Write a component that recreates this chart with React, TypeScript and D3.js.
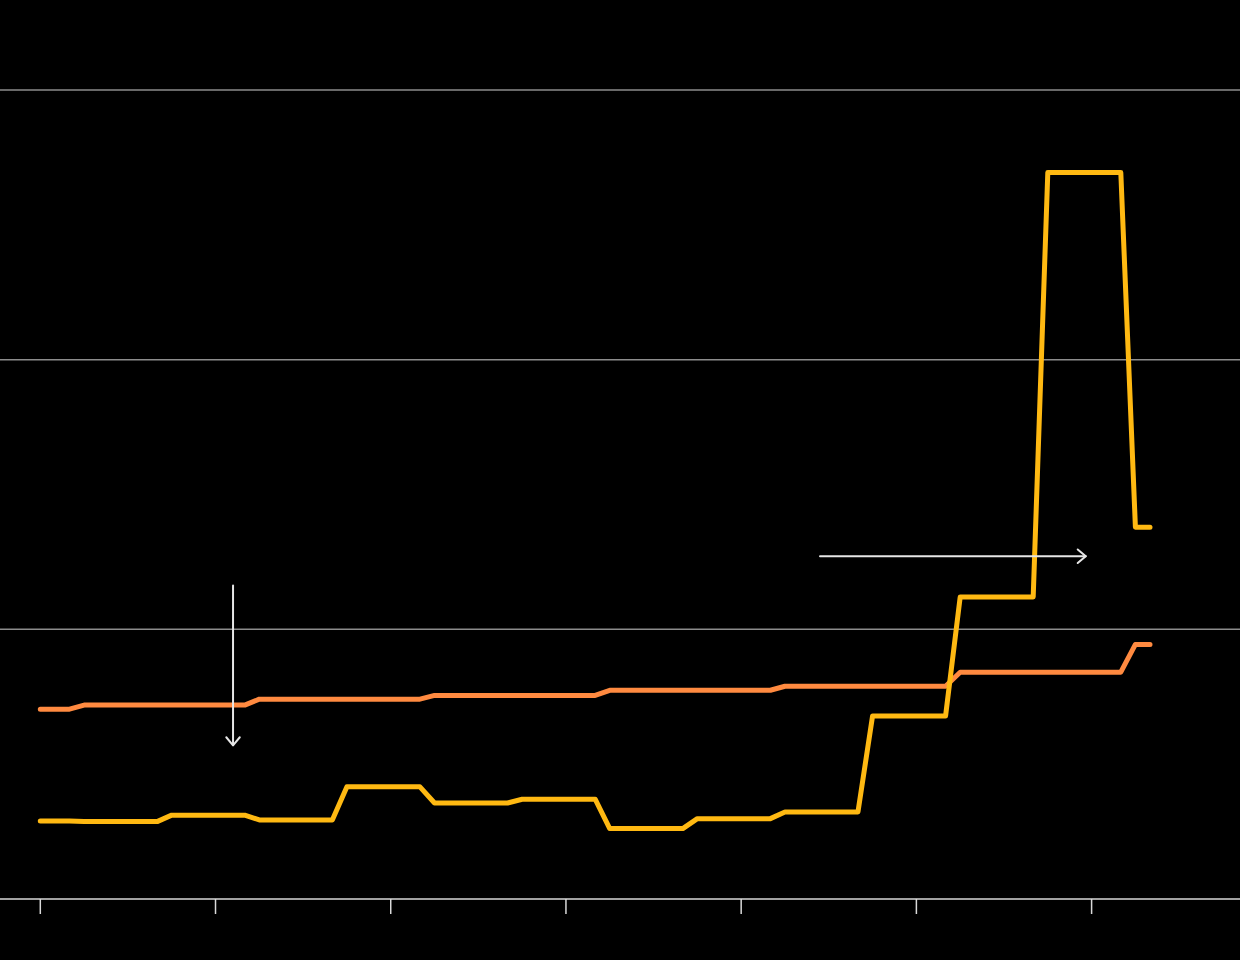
import React from "react";
import * as d3 from "d3";

// monthly series, 77 points; ticks every 12 months
const months: number[] = d3.range(77);
const tickIndices: number[] = [0, 12, 24, 36, 48, 60, 72];
const gridValues: number[] = [10, 20, 30];

const orangeSeries: number[] = [
  7.04, 7.04, 7.04,
  7.19, 7.19, 7.19, 7.19, 7.19, 7.19, 7.19, 7.19, 7.19, 7.19, 7.19, 7.19,
  7.41, 7.41, 7.41, 7.41, 7.41, 7.41, 7.41, 7.41, 7.41, 7.41, 7.41, 7.41,
  7.55, 7.55, 7.55, 7.55, 7.55, 7.55, 7.55, 7.55, 7.55, 7.55, 7.55, 7.55,
  7.74, 7.74, 7.74, 7.74, 7.74, 7.74, 7.74, 7.74, 7.74, 7.74, 7.74, 7.74,
  7.89, 7.89, 7.89, 7.89, 7.89, 7.89, 7.89, 7.89, 7.89, 7.89, 7.89, 7.89,
  8.41, 8.41, 8.41, 8.41, 8.41, 8.41, 8.41, 8.41, 8.41, 8.41, 8.41, 8.41,
  9.44, 9.44,
];

const yellowSeries: number[] = [
  2.89, 2.89, 2.89,
  2.87, 2.87, 2.87, 2.87, 2.87, 2.87,
  3.11, 3.11, 3.11, 3.11, 3.11, 3.11,
  2.93, 2.93, 2.93, 2.93, 2.93, 2.93,
  4.16, 4.16, 4.16, 4.16, 4.16, 4.16,
  3.56, 3.56, 3.56, 3.56, 3.56, 3.56,
  3.70, 3.70, 3.70, 3.70, 3.70, 3.70,
  2.61, 2.61, 2.61, 2.61, 2.61, 2.61,
  2.98, 2.98, 2.98, 2.98, 2.98, 2.98,
  3.23, 3.23, 3.23, 3.23, 3.23, 3.23,
  6.79, 6.79, 6.79, 6.79, 6.79, 6.79,
  11.2, 11.2, 11.2, 11.2, 11.2, 11.2,
  26.94, 26.94, 26.94, 26.94, 26.94, 26.94,
  13.79, 13.79,
];

// annotation arrows in data units: [x1, y1, x2, y2]
const downArrow: number[] = [13.2, 11.63, 13.2, 5.7];
const rightArrow: number[] = [53.4, 12.71, 71.6, 12.71];

const W = 1240;
const H = 960;

export default function App() {
  const x = d3.scaleLinear().domain([0, 72]).range([40.3, 1091.6]);
  const y = d3.scaleLinear().domain([0, 30]).range([899, 90]);

  const line = d3
    .line<number>()
    .x((_, i) => x(months[i]))
    .y((d) => y(d));

  const arrowHead = (a: number[], size = 10.5) => {
    const x1 = x(a[0]), y1 = y(a[1]), x2 = x(a[2]), y2 = y(a[3]);
    const ang = Math.atan2(y2 - y1, x2 - x1);
    const l = Math.PI - (40 * Math.PI) / 180;
    const p1 = [x2 + size * Math.cos(ang + l), y2 + size * Math.sin(ang + l)];
    const p2 = [x2 + size * Math.cos(ang - l), y2 + size * Math.sin(ang - l)];
    return `M${p1[0]},${p1[1]}L${x2},${y2}L${p2[0]},${p2[1]}`;
  };

  return (
    <svg
      width={W}
      height={H}
      style={{ position: "absolute", left: 0, top: 0, background: "#000", display: "block" }}
    >
      <rect x={0} y={0} width={W} height={H} fill="#000" />
      {gridValues.map((v) => (
        <line key={v} x1={0} x2={W} y1={y(v)} y2={y(v)} stroke="#8c8c8c" strokeWidth={1.5} />
      ))}
      <line x1={0} x2={W} y1={y(0)} y2={y(0)} stroke="#d9d9d9" strokeWidth={1.5} />
      {tickIndices.map((t) => (
        <line key={t} x1={x(t)} x2={x(t)} y1={y(0)} y2={y(0) + 15} stroke="#d9d9d9" strokeWidth={1.5} />
      ))}
      <path d={line(orangeSeries) || ""} fill="none" stroke="#ff8a40" strokeWidth={5} strokeLinejoin="round" strokeLinecap="round" />
      <path d={line(yellowSeries) || ""} fill="none" stroke="#ffb912" strokeWidth={5} strokeLinejoin="round" strokeLinecap="round" />
      {[downArrow, rightArrow].map((a, i) => (
        <g key={i} stroke="#e6e6e6" strokeWidth={2} fill="none" strokeLinecap="round" strokeLinejoin="round">
          <line x1={x(a[0])} y1={y(a[1])} x2={x(a[2])} y2={y(a[3])} />
          <path d={arrowHead(a)} />
        </g>
      ))}
    </svg>
  );
}
